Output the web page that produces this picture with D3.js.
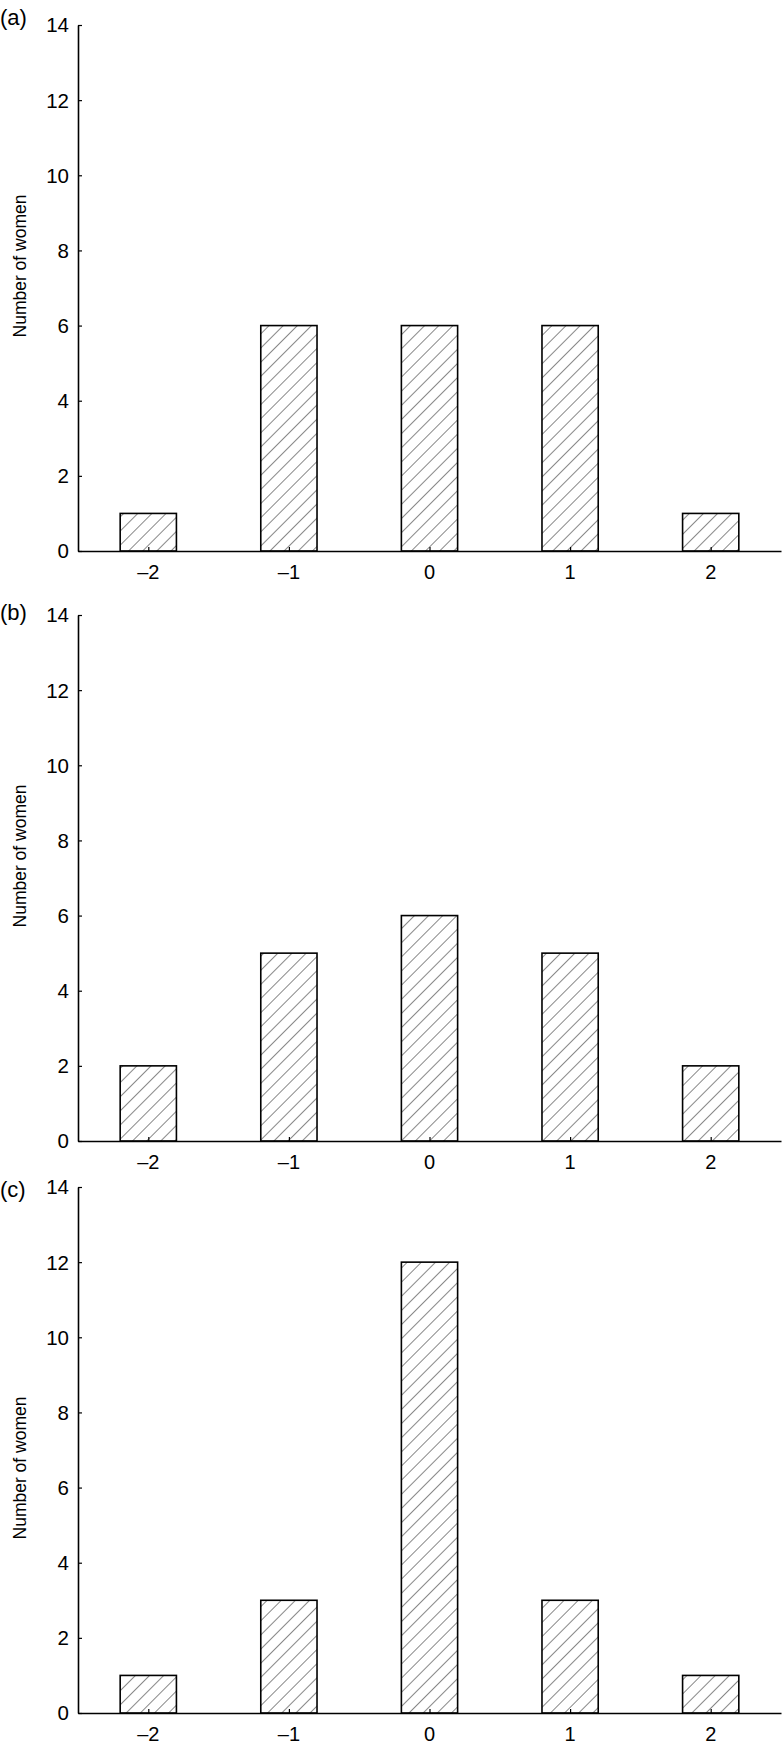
<!DOCTYPE html>
<html>
<head>
<meta charset="utf-8">
<script src="https://cdn.jsdelivr.net/npm/d3@7"></script>
<style>
  html, body { margin: 0; padding: 0; background: #fff; }
  svg { display: block; }
  text { font-family: "Liberation Sans", Arial, sans-serif; fill: #000; }
</style>
</head>
<body>
<script>
// ---- data ----
const categories = [-2, -1, 0, 1, 2];
const tickLabels = ["\u20132", "\u20131", "0", "1", "2"];
const yTicks = [0, 2, 4, 6, 8, 10, 12, 14];
const panelLabels = ["(a)", "(b)", "(c)"];
const seriesA = [1, 6, 6, 6, 1];
const seriesB = [2, 5, 6, 5, 2];
const seriesC = [1, 3, 12, 3, 1];
const yTitle = "Number of women";

const series = [seriesA, seriesB, seriesC];

const W = 782, H = 1746;
const svg = d3.select("body").append("svg").attr("width", W).attr("height", H);

const defs = svg.append("defs");
const pat = defs.append("pattern")
  .attr("id", "hatch")
  .attr("patternUnits", "userSpaceOnUse")
  .attr("width", 10).attr("height", 10)
  .attr("patternTransform", "rotate(45)");
pat.append("rect").attr("width", 10).attr("height", 10).attr("fill", "#fff");
pat.append("line").attr("x1", 0).attr("y1", 0).attr("x2", 0).attr("y2", 10)
  .attr("stroke", "#111").attr("stroke-width", 1);

const x = d3.scaleLinear().domain([-2.5, 2.5]).range([78, 781]);
const barW = x(0.2) - x(-0.2);

const panelTop = [25, 615, 1187];
const panelH = 526;
const labelDy = [-8, -3, 2];
const titleDy = [-22, -22, 18];

series.forEach((vals, i) => {
  const y = d3.scaleLinear().domain([0, 14]).range([panelTop[i] + panelH, panelTop[i]]);
  const g = svg.append("g");

  // bars
  g.selectAll("rect.bar").data(vals).enter().append("rect")
    .attr("class", "bar")
    .attr("x", (d, j) => x(categories[j]) - barW / 2)
    .attr("y", d => y(d))
    .attr("width", barW)
    .attr("height", d => y(0) - y(d))
    .attr("fill", "url(#hatch)")
    .attr("stroke", "#000")
    .attr("stroke-width", 1.6);

  // y axis
  const yAxis = d3.axisRight(y).tickValues(yTicks).tickSize(4).tickSizeOuter(0).tickFormat("");
  const ya = g.append("g").attr("transform", `translate(${x.range()[0]},0)`).call(yAxis);
  ya.select(".domain").attr("stroke", "#000").attr("stroke-width", 1.6);
  ya.selectAll(".tick line").attr("stroke", "#000").attr("stroke-width", 1.2);

  g.selectAll("text.ytick").data(yTicks).enter().append("text")
    .attr("class", "ytick")
    .attr("x", 69)
    .attr("y", d => y(d))
    .attr("dy", "0.36em")
    .attr("text-anchor", "end")
    .attr("font-size", 20.5)
    .text(d => d);

  // x axis
  const xAxis = d3.axisTop(x).tickValues(categories).tickSize(4).tickSizeOuter(0).tickFormat("");
  const xa = g.append("g").attr("transform", `translate(0,${y(0)})`).call(xAxis);
  xa.select(".domain").attr("stroke", "#000").attr("stroke-width", 1.6);
  xa.selectAll(".tick line").attr("stroke", "#000").attr("stroke-width", 1.2);

  g.selectAll("text.xtick").data(categories).enter().append("text")
    .attr("class", "xtick")
    .attr("x", d => x(d))
    .attr("y", y(0) + 28)
    .attr("text-anchor", "middle")
    .attr("font-size", 20)
    .text((d, j) => tickLabels[j]);

  // y title
  g.append("text")
    .attr("transform", `translate(20,${y(7) + titleDy[i]}) rotate(-90)`)
    .attr("dy", "0.36em")
    .attr("text-anchor", "middle")
    .attr("font-size", 17.5)
    .text(yTitle);

  // panel label
  g.append("text")
    .attr("x", 0)
    .attr("y", panelTop[i] + labelDy[i])
    .attr("dy", "0.36em")
    .attr("font-size", 22)
    .text(panelLabels[i]);
});
</script>
</body>
</html>
